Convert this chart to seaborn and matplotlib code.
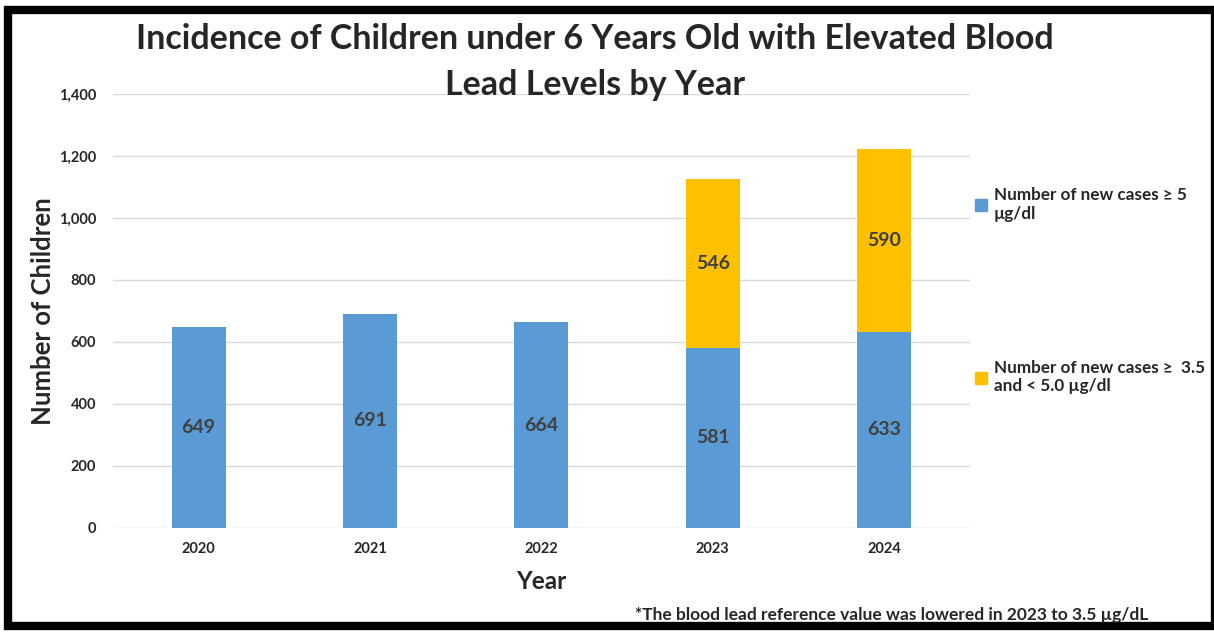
import pandas as pd
import numpy as np
import matplotlib.pyplot as plt
import seaborn as sns
from matplotlib.patches import Rectangle, Patch

# Data
years = ["2020", "2021", "2022", "2023", "2024"]
cases_5 = [649, 691, 664, 581, 633]
cases_35 = [0, 0, 0, 546, 590]

sns.set_style("white")
plt.rcParams['font.family'] = ['Lato', 'DejaVu Sans']
plt.rcParams['font.weight'] = 'bold'

df = pd.DataFrame({"year": years, "cases_5": cases_5, "cases_35": cases_35})
df["total"] = df["cases_5"] + df["cases_35"]

blue = "#5B9BD5"
gold = "#FFC000"
label_col = "#404040"

fig = plt.figure(figsize=(12.14, 6.33), dpi=100)
ax = fig.add_axes([0.093, 0.166, 0.706, 0.6855])

# stacked: draw totals in gold, then blue part on top
sns.barplot(data=df, x="year", y="total", color=gold, saturation=1, width=0.315,
            linewidth=0, ax=ax)
sns.barplot(data=df, x="year", y="cases_5", color=blue, saturation=1, width=0.315,
            linewidth=0, ax=ax)

for i, row in df.iterrows():
    ax.text(i, row["cases_5"] / 2, f"{row['cases_5']}", ha="center", va="center",
            fontsize=14, fontweight="bold", color=label_col)
    if row["cases_35"] > 0:
        ax.text(i, row["cases_5"] + row["cases_35"] / 2, f"{row['cases_35']}", ha="center",
                va="center", fontsize=14, fontweight="bold", color=label_col)

ax.set_ylim(0, 1400)
ax.set_xlim(-0.5, 4.5)
ax.set_yticks(range(0, 1401, 200))
ax.set_yticklabels([f"{v:,}" for v in range(0, 1401, 200)])
ax.yaxis.grid(True, color="#D9D9D9", linewidth=1)
ax.set_axisbelow(True)
for s in ax.spines.values():
    s.set_visible(False)
ax.tick_params(axis="both", length=0, labelsize=10.5, pad=12)
ax.tick_params(axis="x", pad=10)
for lbl in ax.get_xticklabels() + ax.get_yticklabels():
    lbl.set_fontweight("bold")

ax.set_xlabel("Year", fontsize=17.5, fontweight="bold", labelpad=10)
ax.set_ylabel("Number of Children", fontsize=18.5, fontweight="bold", labelpad=3)

fig.text(0.49, 0.938, "Incidence of Children under 6 Years Old with Elevated Blood",
         ha="center", va="center", fontsize=24.5, fontweight="bold")
fig.text(0.49, 0.865, "Lead Levels by Year", ha="center", va="center",
         fontsize=24.5, fontweight="bold")

handles = [Patch(color=blue), Patch(color=gold)]
labels = ["Number of new cases \u2265 5\n\u00b5g/dl", "Number of new cases \u2265  3.5\nand < 5.0 \u00b5g/dl"]
fig.legend(handles, labels, loc="upper left", bbox_to_anchor=(0.7905, 0.729), frameon=False,
           handlelength=0.7, handleheight=0.7, handletextpad=0.4, labelspacing=8.1,
           prop={"size": 12.3, "weight": "bold"})

fig.text(0.523, 0.029, "*The blood lead reference value was lowered in 2023 to 3.5 \u00b5g/dL",
         ha="left", va="center", fontsize=12.5, fontweight="bold")

# black frame (right edge runs off the image, as in the source)
fig.patches.append(Rectangle((0.0066, 0.011), 0.9942, 0.973, transform=fig.transFigure,
                             fill=False, edgecolor="black", linewidth=6))

fig.savefig("out.png", dpi=100)
